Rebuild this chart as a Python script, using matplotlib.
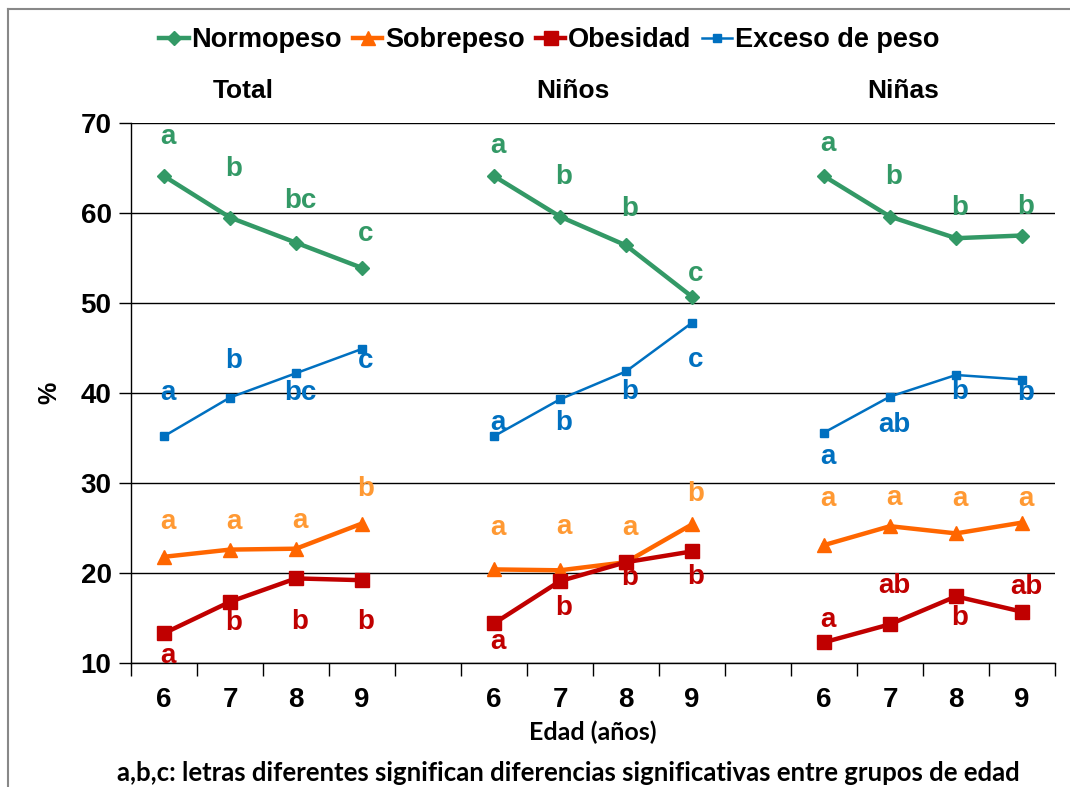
"""Prevalencia de normopeso, sobrepeso, obesidad y exceso de peso por edad."""

import matplotlib
matplotlib.use("Agg")
import matplotlib.pyplot as plt
from matplotlib.lines import Line2D

# categorias del eje x (hueco vacio entre grupos)
ages = ["6", "7", "8", "9", "", "6", "7", "8", "9", "", "6", "7", "8", "9"]
groups = ["Total", "Niños", "Niñas"]

# valores (%) por grupo, edades 6-9
normopeso = {
    "Total": [64.1, 59.5, 56.7, 53.9],
    "Niños": [64.1, 59.6, 56.4, 50.7],
    "Niñas": [64.1, 59.6, 57.2, 57.5],
}
sobrepeso = {
    "Total": [21.8, 22.6, 22.7, 25.5],
    "Niños": [20.4, 20.3, 21.2, 25.4],
    "Niñas": [23.1, 25.2, 24.4, 25.6],
}
obesidad = {
    "Total": [13.3, 16.8, 19.4, 19.2],
    "Niños": [14.4, 19.1, 21.2, 22.4],
    "Niñas": [12.3, 14.3, 17.4, 15.7],
}
exceso = {
    "Total": [35.2, 39.5, 42.2, 44.9],
    "Niños": [35.2, 39.3, 42.4, 47.8],
    "Niñas": [35.6, 39.6, 42.0, 41.5],
}

# letras de significacion
normo_letters = {"Total": ["a", "b", "bc", "c"], "Niños": ["a", "b", "b", "c"], "Niñas": ["a", "b", "b", "b"]}
sobre_letters = {"Total": ["a", "a", "a", "b"], "Niños": ["a", "a", "a", "b"], "Niñas": ["a", "a", "a", "a"]}
obes_letters = {"Total": ["a", "b", "b", "b"], "Niños": ["a", "b", "b", "b"], "Niñas": ["a", "ab", "b", "ab"]}
exceso_letters = {"Total": ["a", "b", "bc", "c"], "Niños": ["a", "b", "b", "c"], "Niñas": ["a", "ab", "b", "b"]}

# desplazamiento vertical de cada letra respecto a su punto (pixeles, + = arriba)
normo_off = {"Total": [39, 48, 42, 34], "Niños": [30, 40, 36, 23], "Niñas": [32, 40, 30, 28]}
sobre_off = {"Total": [35, 28, 28, 34], "Niños": [41, 43, 34, 30], "Niñas": [46, 28, 34, 24]}
obes_off = {"Total": [-23, -21, -44, -42], "Niños": [-19, -27, -16, -26], "Niñas": [22, 38, -22, 25]}
exceso_off = {"Total": [43, 36, -20, -12], "Niños": [13, -24, -21, -37], "Niñas": [-24, -28, -17, -13]}

GREEN = "#339966"
ORANGE = "#FF6600"
ORANGE_TXT = "#FF9933"
RED = "#C00000"
BLUE = "#0070C0"
FONT = "Liberation Sans"

plt.rcParams["font.family"] = [FONT, "DejaVu Sans"]

fig = plt.figure(figsize=(10.7, 7.87), dpi=100)
ax = fig.add_axes([131 / 1070, 1 - 663 / 787, (1055 - 131) / 1070, (663 - 123) / 787])

series = [
    ("Normopeso", normopeso, normo_letters, normo_off, GREEN, GREEN, dict(marker="D", ms=7, lw=3.2)),
    ("Sobrepeso", sobrepeso, sobre_letters, sobre_off, ORANGE, ORANGE_TXT, dict(marker="^", ms=10, lw=3.2)),
    ("Obesidad", obesidad, obes_letters, obes_off, RED, RED, dict(marker="s", ms=10, lw=3.2)),
    ("Exceso de peso", exceso, exceso_letters, exceso_off, BLUE, BLUE, dict(marker="s", ms=6, lw=1.8)),
]

handles = []
for name, data, letters, offs, color, tcolor, style in series:
    for gi, g in enumerate(groups):
        xs = [gi * 5 + i for i in range(4)]
        ax.plot(xs, data[g], color=color, zorder=3, **style)
        for x, y, lab, off in zip(xs, data[g], letters[g], offs[g]):
            ax.annotate(lab, (x, y), xytext=(4, off), textcoords="offset pixels",
                        ha="center", va="center", color=tcolor, fontsize=20,
                        fontweight="bold", zorder=4)
    handles.append(Line2D([], [], color=color, label=name, **style))

ax.set_xlim(-0.5, len(ages) - 0.5)
ax.set_ylim(10, 70)
ax.set_yticks(range(10, 71, 10))
ax.set_xticks(range(len(ages)))
ax.set_xticklabels(ages)
ax.set_xticks([i - 0.5 for i in range(len(ages) + 1)], minor=True)
ax.tick_params(axis="x", which="major", length=0, pad=17, labelsize=20)
ax.tick_params(axis="x", which="minor", length=9, width=1, direction="out")
ax.tick_params(axis="y", length=9, width=1, direction="out", pad=5, labelsize=20)
for lab in ax.get_xticklabels() + ax.get_yticklabels():
    lab.set_fontweight("bold")
ax.grid(axis="y", color="black", linewidth=1)
ax.set_axisbelow(True)
for s in ["top", "right"]:
    ax.spines[s].set_visible(False)
for s in ["left", "bottom"]:
    ax.spines[s].set_linewidth(1)

ax.set_ylabel("%", fontsize=18, fontweight="bold", labelpad=14)
ax.set_xlabel("Edad (años)", fontsize=18, fontweight="bold", family=["Lato", "DejaVu Sans"], labelpad=6)

for gi, g in enumerate(groups):
    ax.text(gi * 5 + 1.2, 1.06, g, transform=ax.get_xaxis_transform(), ha="center",
            va="center", fontsize=19, fontweight="bold")

ax.legend(handles=handles, loc="center", bbox_to_anchor=(549 / 1070, 1 - 40 / 787),
          bbox_transform=fig.transFigure, ncol=4, frameon=False,
          prop={"weight": "bold", "size": 19.5}, handlelength=1.1, handletextpad=0.1,
          columnspacing=0.4)

fig.text(568 / 1070, 1 - 773 / 787,
         "a,b,c: letras diferentes significan diferencias significativas entre grupos de edad",
         ha="center", va="center", fontsize=18.5, fontweight="bold", family=["Lato", "DejaVu Sans"])

# marco gris del area del grafico
fig.add_artist(Line2D([8 / 1070, 8 / 1070], [0, 1 - 9 / 787], transform=fig.transFigure,
                      color="#888888", lw=1.5))
fig.add_artist(Line2D([8 / 1070, 1], [1 - 9 / 787, 1 - 9 / 787], transform=fig.transFigure,
                      color="#888888", lw=1.5))

fig.savefig("out.png", dpi=100)
plt.close(fig)
